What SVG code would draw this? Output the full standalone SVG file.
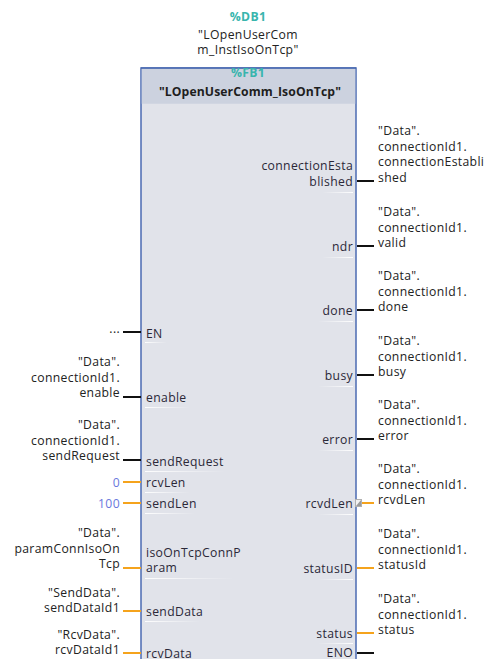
<svg xmlns="http://www.w3.org/2000/svg" width="488" height="659" viewBox="0 0 488 659">
  <style>
    text { font-family: "Open Sans", "Noto Sans", "DejaVu Sans", sans-serif; font-size: 12.2px; letter-spacing: 0.35px; fill: #222; }
    .pin { fill: #2b2838; }
    .end { text-anchor: end; }
    .mid { text-anchor: middle; }
    .tag { fill: #38b5ad; font-weight: bold; }
    .title { font-weight: bold; fill: #1e1e1e; letter-spacing: 0.1px; }
    .num { fill: #6a78dd; }
    .bool { stroke: #111; stroke-width: 2; }
    .word { stroke: #f5a31c; stroke-width: 2; }
    .ul { fill: url(#fade); }
    .ulr { fill: url(#fadeR); }
  </style>
  <defs>
    <linearGradient id="fade" x1="0" y1="0" x2="1" y2="0">
      <stop offset="0" stop-color="#ffffff" stop-opacity="0.95"/>
      <stop offset="1" stop-color="#ffffff" stop-opacity="0"/>
    </linearGradient>
    <linearGradient id="fadeR" x1="1" y1="0" x2="0" y2="0">
      <stop offset="0" stop-color="#ffffff" stop-opacity="0.95"/>
      <stop offset="1" stop-color="#ffffff" stop-opacity="0"/>
    </linearGradient>
  </defs>

  <!-- instance data block -->
  <g id="instance-db">
    <text class="tag mid" x="248" y="21">%DB1</text>
    <text class="mid" x="248" y="39">"LOpenUserCom</text>
    <text class="mid" x="248" y="54">m_InstIsoOnTcp"</text>
  </g>

  <!-- function block -->
  <g id="fb-block">
    <rect x="141" y="68" width="215" height="600" fill="#e1e3ea" stroke="#4b6bb2" stroke-width="1.5"/>
    <rect x="141.75" y="68.75" width="213.5" height="35" fill="#ccd2df"/>
    <line x1="141" y1="68" x2="356" y2="68" stroke="#4b6bb2" stroke-width="1.5"/>
    <text class="tag mid" x="248" y="77">%FB1</text>
    <text class="title mid" x="250" y="96">"LOpenUserComm_IsoOnTcp"</text>

    <!-- input pin names -->
    <text class="pin" x="146" y="338">EN</text>
    <rect class="ul" x="145" y="342" width="22" height="1"/>
    <text class="pin" x="146" y="402">enable</text>
    <rect class="ul" x="145" y="407" width="45" height="1"/>
    <text class="pin" x="146" y="466">sendRequest</text>
    <rect class="ul" x="145" y="471" width="80" height="1"/>
    <text class="pin" x="146" y="487">rcvLen</text>
    <rect class="ul" x="145" y="492" width="45" height="1"/>
    <text class="pin" x="146" y="508">sendLen</text>
    <rect class="ul" x="145" y="513" width="50" height="1"/>
    <text class="pin" x="146" y="557">isoOnTcpConnP</text>
    <text class="pin" x="146" y="572">aram</text>
    <rect class="ul" x="145" y="578" width="90" height="1"/>
    <text class="pin" x="146" y="616">sendData</text>
    <rect class="ul" x="145" y="621" width="55" height="1"/>
    <text class="pin" x="146" y="658">rcvData</text>

    <!-- output pin names -->
    <text class="pin end" x="353" y="170">connectionEsta</text>
    <text class="pin end" x="353" y="186">blished</text>
    <rect class="ulr" x="322" y="192" width="31" height="1"/>
    <text class="pin end" x="353" y="251">ndr</text>
    <rect class="ulr" x="322" y="257" width="31" height="1"/>
    <text class="pin end" x="353" y="315">done</text>
    <rect class="ulr" x="318" y="321" width="35" height="1"/>
    <text class="pin end" x="353" y="380">busy</text>
    <rect class="ulr" x="318" y="386" width="35" height="1"/>
    <text class="pin end" x="353" y="444">error</text>
    <rect class="ulr" x="318" y="450" width="35" height="1"/>
    <text class="pin end" x="353" y="508">rcvdLen</text>
    <rect class="ulr" x="318" y="514" width="35" height="1"/>
    <text class="pin end" x="353" y="573">statusID</text>
    <rect class="ulr" x="318" y="579" width="35" height="1"/>
    <text class="pin end" x="353" y="638">status</text>
    <rect class="ulr" x="318" y="643" width="35" height="1"/>
    <text class="pin end" x="353" y="657">ENO</text>

    <!-- implicit conversion marker on rcvdLen -->
    <rect x="355.5" y="499.5" width="6" height="7" fill="#f2f2f2" stroke="#b0b0b0" stroke-width="1"/>
    <path d="M356 506 L361 500 L361 506 Z" fill="#9a9a9a"/>
  </g>

  <!-- wires between operands and pins -->
  <g id="connectors">
    <line class="bool" x1="123" y1="332" x2="141" y2="332"/>
    <line class="bool" x1="123" y1="397" x2="141" y2="397"/>
    <line class="bool" x1="123" y1="460" x2="141" y2="460"/>
    <line class="word" x1="123" y1="482" x2="141" y2="482"/>
    <line class="word" x1="123" y1="503" x2="141" y2="503"/>
    <line class="word" x1="123" y1="568" x2="141" y2="568"/>
    <line class="word" x1="123" y1="611" x2="141" y2="611"/>
    <line class="word" x1="123" y1="653" x2="141" y2="653"/>

    <line class="bool" x1="357" y1="181" x2="374" y2="181"/>
    <line class="bool" x1="357" y1="246" x2="374" y2="246"/>
    <line class="bool" x1="357" y1="310" x2="374" y2="310"/>
    <line class="bool" x1="357" y1="375" x2="374" y2="375"/>
    <line class="bool" x1="357" y1="439" x2="374" y2="439"/>
    <line class="word" x1="362" y1="503" x2="374" y2="503"/>
    <line class="word" x1="357" y1="568" x2="374" y2="568"/>
    <line class="word" x1="357" y1="633" x2="374" y2="633"/>
    <line class="bool" x1="357" y1="653" x2="374" y2="653"/>
  </g>

  <!-- input operands -->
  <g id="op-en">
    <text class="end" x="120" y="333">...</text>
  </g>
  <g id="op-enable">
    <text class="end" x="120" y="366">"Data".</text>
    <text class="end" x="120" y="382">connectionId1.</text>
    <text class="end" x="120" y="397">enable</text>
  </g>
  <g id="op-sendRequest">
    <text class="end" x="120" y="429">"Data".</text>
    <text class="end" x="120" y="445">connectionId1.</text>
    <text class="end" x="120" y="460">sendRequest</text>
  </g>
  <g id="op-rcvLen">
    <text class="num end" x="120" y="487">0</text>
  </g>
  <g id="op-sendLen">
    <text class="num end" x="120" y="508">100</text>
  </g>
  <g id="op-connParam">
    <text class="end" x="120" y="537">"Data".</text>
    <text class="end" x="120" y="553">paramConnIsoOn</text>
    <text class="end" x="120" y="568">Tcp</text>
  </g>
  <g id="op-sendData">
    <text class="end" x="120" y="597">"SendData".</text>
    <text class="end" x="120" y="612">sendDataId1</text>
  </g>
  <g id="op-rcvData">
    <text class="end" x="120" y="639">"RcvData".</text>
    <text class="end" x="120" y="654">rcvDataId1</text>
  </g>

  <!-- output operands -->
  <g id="op-connEstablished">
    <text x="378" y="135">"Data".</text>
    <text x="378" y="151">connectionId1.</text>
    <text x="378" y="166">connectionEstabli</text>
    <text x="378" y="182">shed</text>
  </g>
  <g id="op-ndr">
    <text x="378" y="216">"Data".</text>
    <text x="378" y="232">connectionId1.</text>
    <text x="378" y="247">valid</text>
  </g>
  <g id="op-done">
    <text x="378" y="280">"Data".</text>
    <text x="378" y="296">connectionId1.</text>
    <text x="378" y="311">done</text>
  </g>
  <g id="op-busy">
    <text x="378" y="345">"Data".</text>
    <text x="378" y="361">connectionId1.</text>
    <text x="378" y="376">busy</text>
  </g>
  <g id="op-error">
    <text x="378" y="409">"Data".</text>
    <text x="378" y="425">connectionId1.</text>
    <text x="378" y="440">error</text>
  </g>
  <g id="op-rcvdLen">
    <text x="378" y="473">"Data".</text>
    <text x="378" y="489">connectionId1.</text>
    <text x="378" y="504">rcvdLen</text>
  </g>
  <g id="op-statusId">
    <text x="378" y="538">"Data".</text>
    <text x="378" y="554">connectionId1.</text>
    <text x="378" y="569">statusId</text>
  </g>
  <g id="op-status">
    <text x="378" y="603">"Data".</text>
    <text x="378" y="619">connectionId1.</text>
    <text x="378" y="634">status</text>
  </g>
</svg>
